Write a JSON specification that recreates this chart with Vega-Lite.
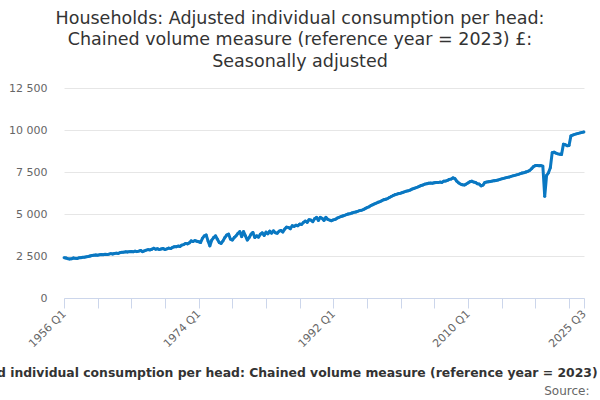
{
  "$schema": "https://vega.github.io/schema/vega-lite/v6.json",
  "width": 520,
  "height": 210,
  "autosize": {"type": "none"},
  "padding": {"left": 64, "top": 88, "right": 16, "bottom": 102},
  "background": "white",
  "config": {"view": {"stroke": null}, "font": "DejaVu Sans"},
  "title": {
    "text": ["Households: Adjusted individual consumption per head:", "Chained volume measure (reference year = 2023) £:", "Seasonally adjusted"],
    "font": "DejaVu Sans", "fontSize": 17.5, "fontWeight": "normal", "color": "#333333",
    "anchor": "middle", "dx": -24, "offset": 12, "lineHeight": 21.5
  },
  "data": {"values": [
    {"q":"1956 Q1","v":2400},{"q":"1956 Q2","v":2380},{"q":"1956 Q3","v":2340},{"q":"1956 Q4","v":2320},
    {"q":"1957 Q1","v":2330},{"q":"1957 Q2","v":2380},{"q":"1957 Q3","v":2360},{"q":"1957 Q4","v":2350},
    {"q":"1958 Q1","v":2390},{"q":"1958 Q2","v":2400},{"q":"1958 Q3","v":2420},{"q":"1958 Q4","v":2430},
    {"q":"1959 Q1","v":2450},{"q":"1959 Q2","v":2470},{"q":"1959 Q3","v":2500},{"q":"1959 Q4","v":2530},
    {"q":"1960 Q1","v":2550},{"q":"1960 Q2","v":2560},{"q":"1960 Q3","v":2550},{"q":"1960 Q4","v":2570},
    {"q":"1961 Q1","v":2590},{"q":"1961 Q2","v":2580},{"q":"1961 Q3","v":2600},{"q":"1961 Q4","v":2590},
    {"q":"1962 Q1","v":2610},{"q":"1962 Q2","v":2640},{"q":"1962 Q3","v":2620},{"q":"1962 Q4","v":2650},
    {"q":"1963 Q1","v":2670},{"q":"1963 Q2","v":2650},{"q":"1963 Q3","v":2700},{"q":"1963 Q4","v":2720},
    {"q":"1964 Q1","v":2730},{"q":"1964 Q2","v":2750},{"q":"1964 Q3","v":2740},{"q":"1964 Q4","v":2760},
    {"q":"1965 Q1","v":2770},{"q":"1965 Q2","v":2750},{"q":"1965 Q3","v":2790},{"q":"1965 Q4","v":2760},
    {"q":"1966 Q1","v":2790},{"q":"1966 Q2","v":2830},{"q":"1966 Q3","v":2760},{"q":"1966 Q4","v":2810},
    {"q":"1967 Q1","v":2850},{"q":"1967 Q2","v":2880},{"q":"1967 Q3","v":2860},{"q":"1967 Q4","v":2900},
    {"q":"1968 Q1","v":2960},{"q":"1968 Q2","v":2900},{"q":"1968 Q3","v":2930},{"q":"1968 Q4","v":2880},
    {"q":"1969 Q1","v":2920},{"q":"1969 Q2","v":2950},{"q":"1969 Q3","v":2880},{"q":"1969 Q4","v":2920},
    {"q":"1970 Q1","v":2970},{"q":"1970 Q2","v":2940},{"q":"1970 Q3","v":3010},{"q":"1970 Q4","v":3050},
    {"q":"1971 Q1","v":3050},{"q":"1971 Q2","v":3090},{"q":"1971 Q3","v":3070},{"q":"1971 Q4","v":3150},
    {"q":"1972 Q1","v":3180},{"q":"1972 Q2","v":3250},{"q":"1972 Q3","v":3220},{"q":"1972 Q4","v":3280},
    {"q":"1973 Q1","v":3400},{"q":"1973 Q2","v":3360},{"q":"1973 Q3","v":3420},{"q":"1973 Q4","v":3380},
    {"q":"1974 Q1","v":3350},{"q":"1974 Q2","v":3300},{"q":"1974 Q3","v":3550},{"q":"1974 Q4","v":3700},
    {"q":"1975 Q1","v":3750},{"q":"1975 Q2","v":3400},{"q":"1975 Q3","v":3100},{"q":"1975 Q4","v":3450},
    {"q":"1976 Q1","v":3600},{"q":"1976 Q2","v":3700},{"q":"1976 Q3","v":3500},{"q":"1976 Q4","v":3300},
    {"q":"1977 Q1","v":3250},{"q":"1977 Q2","v":3400},{"q":"1977 Q3","v":3600},{"q":"1977 Q4","v":3750},
    {"q":"1978 Q1","v":3800},{"q":"1978 Q2","v":3500},{"q":"1978 Q3","v":3450},{"q":"1978 Q4","v":3600},
    {"q":"1979 Q1","v":3700},{"q":"1979 Q2","v":3850},{"q":"1979 Q3","v":3950},{"q":"1979 Q4","v":3650},
    {"q":"1980 Q1","v":3950},{"q":"1980 Q2","v":3700},{"q":"1980 Q3","v":3450},{"q":"1980 Q4","v":3600},
    {"q":"1981 Q1","v":3800},{"q":"1981 Q2","v":3900},{"q":"1981 Q3","v":3600},{"q":"1981 Q4","v":3700},
    {"q":"1982 Q1","v":3620},{"q":"1982 Q2","v":3800},{"q":"1982 Q3","v":3880},{"q":"1982 Q4","v":3720},
    {"q":"1983 Q1","v":3920},{"q":"1983 Q2","v":3820},{"q":"1983 Q3","v":3980},{"q":"1983 Q4","v":3860},
    {"q":"1984 Q1","v":4000},{"q":"1984 Q2","v":3880},{"q":"1984 Q3","v":3850},{"q":"1984 Q4","v":3980},
    {"q":"1985 Q1","v":4020},{"q":"1985 Q2","v":3930},{"q":"1985 Q3","v":4100},{"q":"1985 Q4","v":4220},
    {"q":"1986 Q1","v":4200},{"q":"1986 Q2","v":4120},{"q":"1986 Q3","v":4300},{"q":"1986 Q4","v":4260},
    {"q":"1987 Q1","v":4330},{"q":"1987 Q2","v":4300},{"q":"1987 Q3","v":4400},{"q":"1987 Q4","v":4380},
    {"q":"1988 Q1","v":4500},{"q":"1988 Q2","v":4580},{"q":"1988 Q3","v":4500},{"q":"1988 Q4","v":4660},
    {"q":"1989 Q1","v":4640},{"q":"1989 Q2","v":4540},{"q":"1989 Q3","v":4720},{"q":"1989 Q4","v":4800},
    {"q":"1990 Q1","v":4620},{"q":"1990 Q2","v":4800},{"q":"1990 Q3","v":4740},{"q":"1990 Q4","v":4620},
    {"q":"1991 Q1","v":4800},{"q":"1991 Q2","v":4680},{"q":"1991 Q3","v":4640},{"q":"1991 Q4","v":4600},
    {"q":"1992 Q1","v":4650},{"q":"1992 Q2","v":4680},{"q":"1992 Q3","v":4750},{"q":"1992 Q4","v":4800},
    {"q":"1993 Q1","v":4840},{"q":"1993 Q2","v":4880},{"q":"1993 Q3","v":4920},{"q":"1993 Q4","v":4960},
    {"q":"1994 Q1","v":5000},{"q":"1994 Q2","v":5020},{"q":"1994 Q3","v":5060},{"q":"1994 Q4","v":5100},
    {"q":"1995 Q1","v":5120},{"q":"1995 Q2","v":5160},{"q":"1995 Q3","v":5200},{"q":"1995 Q4","v":5220},
    {"q":"1996 Q1","v":5260},{"q":"1996 Q2","v":5320},{"q":"1996 Q3","v":5380},{"q":"1996 Q4","v":5420},
    {"q":"1997 Q1","v":5500},{"q":"1997 Q2","v":5550},{"q":"1997 Q3","v":5600},{"q":"1997 Q4","v":5650},
    {"q":"1998 Q1","v":5700},{"q":"1998 Q2","v":5740},{"q":"1998 Q3","v":5800},{"q":"1998 Q4","v":5850},
    {"q":"1999 Q1","v":5880},{"q":"1999 Q2","v":5920},{"q":"1999 Q3","v":5980},{"q":"1999 Q4","v":6040},
    {"q":"2000 Q1","v":6100},{"q":"2000 Q2","v":6150},{"q":"2000 Q3","v":6180},{"q":"2000 Q4","v":6220},
    {"q":"2001 Q1","v":6240},{"q":"2001 Q2","v":6280},{"q":"2001 Q3","v":6320},{"q":"2001 Q4","v":6360},
    {"q":"2002 Q1","v":6380},{"q":"2002 Q2","v":6420},{"q":"2002 Q3","v":6480},{"q":"2002 Q4","v":6520},
    {"q":"2003 Q1","v":6560},{"q":"2003 Q2","v":6600},{"q":"2003 Q3","v":6650},{"q":"2003 Q4","v":6700},
    {"q":"2004 Q1","v":6730},{"q":"2004 Q2","v":6780},{"q":"2004 Q3","v":6800},{"q":"2004 Q4","v":6830},
    {"q":"2005 Q1","v":6840},{"q":"2005 Q2","v":6830},{"q":"2005 Q3","v":6860},{"q":"2005 Q4","v":6880},
    {"q":"2006 Q1","v":6870},{"q":"2006 Q2","v":6900},{"q":"2006 Q3","v":6880},{"q":"2006 Q4","v":6950},
    {"q":"2007 Q1","v":6960},{"q":"2007 Q2","v":7000},{"q":"2007 Q3","v":7060},{"q":"2007 Q4","v":7080},
    {"q":"2008 Q1","v":7150},{"q":"2008 Q2","v":7100},{"q":"2008 Q3","v":6950},{"q":"2008 Q4","v":6850},
    {"q":"2009 Q1","v":6780},{"q":"2009 Q2","v":6740},{"q":"2009 Q3","v":6720},{"q":"2009 Q4","v":6780},
    {"q":"2010 Q1","v":6850},{"q":"2010 Q2","v":6920},{"q":"2010 Q3","v":6950},{"q":"2010 Q4","v":6900},
    {"q":"2011 Q1","v":6880},{"q":"2011 Q2","v":6800},{"q":"2011 Q3","v":6780},{"q":"2011 Q4","v":6670},
    {"q":"2012 Q1","v":6720},{"q":"2012 Q2","v":6880},{"q":"2012 Q3","v":6900},{"q":"2012 Q4","v":6920},
    {"q":"2013 Q1","v":6940},{"q":"2013 Q2","v":6960},{"q":"2013 Q3","v":6980},{"q":"2013 Q4","v":7000},
    {"q":"2014 Q1","v":7020},{"q":"2014 Q2","v":7060},{"q":"2014 Q3","v":7090},{"q":"2014 Q4","v":7120},
    {"q":"2015 Q1","v":7150},{"q":"2015 Q2","v":7180},{"q":"2015 Q3","v":7200},{"q":"2015 Q4","v":7240},
    {"q":"2016 Q1","v":7270},{"q":"2016 Q2","v":7300},{"q":"2016 Q3","v":7330},{"q":"2016 Q4","v":7360},
    {"q":"2017 Q1","v":7400},{"q":"2017 Q2","v":7440},{"q":"2017 Q3","v":7460},{"q":"2017 Q4","v":7500},
    {"q":"2018 Q1","v":7540},{"q":"2018 Q2","v":7600},{"q":"2018 Q3","v":7700},{"q":"2018 Q4","v":7820},
    {"q":"2019 Q1","v":7880},{"q":"2019 Q2","v":7880},{"q":"2019 Q3","v":7870},{"q":"2019 Q4","v":7880},
    {"q":"2020 Q1","v":7850},{"q":"2020 Q2","v":6050},{"q":"2020 Q3","v":7300},{"q":"2020 Q4","v":7450},
    {"q":"2021 Q1","v":7750},{"q":"2021 Q2","v":8650},{"q":"2021 Q3","v":8680},{"q":"2021 Q4","v":8620},
    {"q":"2022 Q1","v":8580},{"q":"2022 Q2","v":8560},{"q":"2022 Q3","v":8540},{"q":"2022 Q4","v":9150},
    {"q":"2023 Q1","v":9120},{"q":"2023 Q2","v":9060},{"q":"2023 Q3","v":9080},{"q":"2023 Q4","v":9650},
    {"q":"2024 Q1","v":9700},{"q":"2024 Q2","v":9740},{"q":"2024 Q3","v":9770},{"q":"2024 Q4","v":9800},
    {"q":"2025 Q1","v":9830},{"q":"2025 Q2","v":9860},{"q":"2025 Q3","v":9880}
  ]},
  "encoding": {
    "y": {
      "field": "v", "type": "quantitative",
      "scale": {"domain": [0, 12500], "nice": false},
      "axis": {
        "values": [0, 2500, 5000, 7500, 10000, 12500],
        "labelExpr": "replace(format(datum.value, ','), ',', ' ')",
        "title": null, "domain": false, "ticks": false, "tickSize": 0,
        "labelPadding": 17, "labelFont": "DejaVu Sans", "labelFontSize": 11, "labelColor": "#666666",
        "gridColor": "#e6e6e6", "gridWidth": 1
      }
    }
  },
  "layer": [
    {
      "mark": {"type": "line", "color": "#0a78c2", "strokeWidth": 3, "strokeJoin": "round"},
      "encoding": {
        "x": {
          "field": "q", "type": "ordinal", "sort": null,
          "scale": {"type": "point", "padding": 0},
          "axis": {
            "values": ["1956 Q1","1960 Q3","1965 Q1","1969 Q3","1974 Q1","1978 Q3","1983 Q1","1987 Q3","1992 Q1","1996 Q3","2001 Q1","2005 Q3","2010 Q1","2014 Q3","2019 Q1","2023 Q3","2025 Q3"],
            "labelExpr": "indexof(['1956 Q1','1974 Q1','1992 Q1','2010 Q1','2025 Q3'], datum.value) >= 0 ? datum.value : ''",
            "labelAngle": -45, "labelAlign": "right", "labelBaseline": "middle",
            "labelPadding": 4, "labelFont": "DejaVu Sans", "labelFontSize": 11, "labelColor": "#666666",
            "tickSize": 10, "tickColor": "#ccd6eb", "domainColor": "#ccd6eb", "grid": false, "labelOverlap": false,
            "title": "Households: Adjusted individual consumption per head: Chained volume measure (reference year = 2023) £",
            "titleFont": "DejaVu Sans", "titleFontSize": 12.4, "titleFontWeight": "bold", "titleColor": "#333333",
            "titleAlign": "right", "titleX": 546, "titleY": 74, "titleBaseline": "middle"
          }
        }
      }
    },
    {
      "mark": {"type": "point", "filled": true, "size": 8, "color": "#0a78c2", "opacity": 1},
      "encoding": {
        "x": {
          "field": "q", "type": "ordinal", "sort": null,
          "scale": {"type": "point", "padding": 0},
          "axis": {
            "orient": "bottom", "labels": false, "ticks": false, "domain": false, "grid": false,
            "title": "Source:", "titleFont": "DejaVu Sans", "titleFontSize": 12, "titleFontWeight": "normal",
            "titleColor": "#666666", "titleAlign": "right", "titleX": 525, "titleY": 92, "titleBaseline": "middle"
          }
        }
      }
    }
  ],
  "resolve": {"axis": {"x": "independent"}}
}
